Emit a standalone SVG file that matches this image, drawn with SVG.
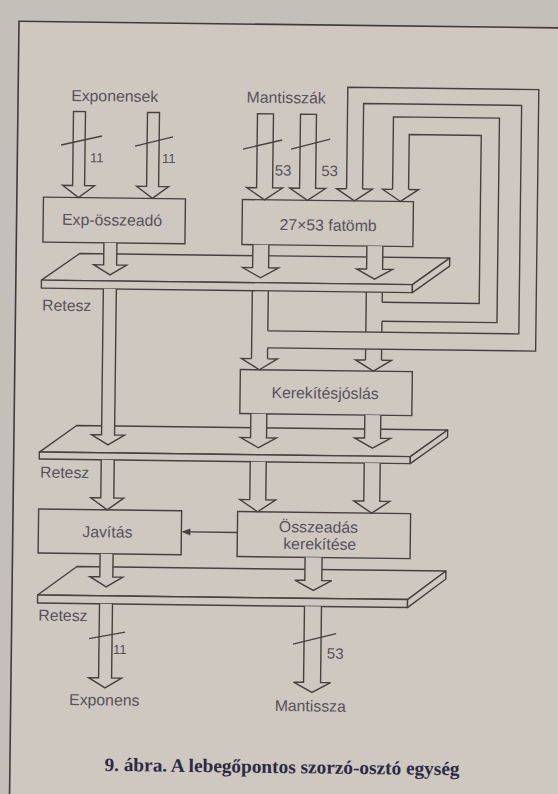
<svg xmlns="http://www.w3.org/2000/svg" width="558" height="794" viewBox="0 0 558 794">
<style>
.ln{fill:none;stroke:#46413f;stroke-width:1.4;stroke-linejoin:miter}
.ar{fill:#cec8c1;stroke:#46413f;stroke-width:1.4;stroke-linejoin:miter}
.hd{fill:#cec8c1;stroke:#46413f;stroke-width:1.4;stroke-linejoin:miter}
.bx{fill:#cec8c1;stroke:#46413f;stroke-width:1.4}
.pl{fill:#cec8c1;stroke:#46413f;stroke-width:1.4;stroke-linejoin:round}
.sl{fill:none;stroke:#46413f;stroke-width:1.3}
.t{font-family:"Liberation Sans",Arial,sans-serif;font-size:15.8px;fill:#57525b}
.m{text-anchor:middle}
.n1{font-family:"Liberation Sans",Arial,sans-serif;font-size:13px;fill:#57525b}
.n2{font-family:"Liberation Sans",Arial,sans-serif;font-size:15px;fill:#57525b}
.cap{font-family:"Liberation Serif","Times New Roman",serif;font-weight:bold;font-size:19px;fill:#2c2a44}
</style>
<rect width="558" height="794" fill="#c5bfba"/>
<g transform="rotate(0.7 280 400)">
<rect id="frame" x="14.4" y="24.5" width="570" height="800" fill="#cec8c1" stroke="#3f3a3c" stroke-width="1.6"/>

<g id="latch1">
<path class="pl" d="M78,256 H448 L411,283 H40 Z"/>
<path class="pl" d="M40,283 H411 V291 H40 Z"/>
<path class="pl" d="M448,256 V264 L411,291 V283 Z"/>
</g>
<g id="latch2">
<path class="pl" d="M77,428 H448 L411,455 H40 Z"/>
<path class="pl" d="M40,455 H411 V462 H40 Z"/>
<path class="pl" d="M448,428 V435 L411,462 V455 Z"/>
</g>
<g id="latch3">
<path class="pl" d="M79,569 H448 L410,598 H40 Z"/>
<path class="pl" d="M40,598 H410 V606 H40 Z"/>
<path class="pl" d="M448,569 V577 L410,606 V598 Z"/>
</g>

<g id="exp-adder"><rect class="bx" x="41" y="200" width="142" height="45"/><text class="t m" x="110" y="227.5">Exp-összeadó</text></g>
<g id="fatomb"><rect class="bx" x="240" y="200" width="171" height="45"/><text class="t m" x="326" y="230">27×53 fatömb</text></g>
<g id="kerekitesjoslas"><rect class="bx" x="240" y="370" width="172" height="44"/><text class="t m" x="325" y="398">Kerekítésjóslás</text></g>
<g id="javitas"><rect class="bx" x="40" y="512" width="143" height="44"/><text class="t m" x="109" y="539.5">Javítás</text></g>
<g id="osszeadas"><rect class="bx" x="239" y="512" width="173" height="45"/><text class="t m" x="320" y="532">Összeadás</text><text class="t m" x="321.5" y="549">kerekítése</text></g>

<g id="connectors">
<path class="ar" d="M70,114 V188 H60 L76,200 L92,188 H82 V114 Z"/>
<path class="ar" d="M144,114 V188 H134 L150,200 L166,188 H156 V114 Z"/>
<path class="ar" d="M254,114 V188 H244 L262,200 L280,188 H270 V114 Z"/>
<path class="ar" d="M297,114 V188 H287 L305,200 L323,188 H313 V114 Z"/>
<path class="ln" d="M344,188 V86.5 H535 V348 H267"/>
<path class="ln" d="M360,188 V102.5 H518 V331 H267"/>
<path class="ln" d="M390,188 V115.5 H496 V320 H381"/>
<path class="ln" d="M406,188 V133 H478 V301 H381"/>
<path class="hd" d="M344,188 H334 L352,200 L370,188 H360"/>
<path class="hd" d="M390,188 H380 L398,200 L416,188 H406"/>
<path class="ar" d="M102,245 V267 H92 L108.5,277 L125,267 H115 V245"/>
<path class="ar" d="M251,245 V268 H241 L259,278 L277,268 H267 V245"/>
<path class="ar" d="M365,245 V268 H355 L373,278 L391,268 H381 V245"/>
<path class="ar" d="M102,291 V437 H92 L108.5,447 L125,437 H115 V291"/>
<path class="ln" d="M251,291 V359 M267,291 V331 M267,348 V359 M365,291 V331 M365,348 V359 M381,291 V301 M381,320 V331 M381,348 V359"/>
<path class="hd" d="M251,359 H241 L259,370 L277,359 H267"/>
<path class="hd" d="M365,359 H355 L373,370 L391,359 H381"/>
<path class="ar" d="M251,414 V438 H241 L259,448 L277,438 H267 V414"/>
<path class="ar" d="M365,414 V437 H355 L373,447 L391,437 H381 V414"/>
<path class="ar" d="M102,462 V500 H92 L108.5,512 L125,500 H115 V462"/>
<path class="ar" d="M251,462 V500 H241 L259,512 L277,500 H267 V462"/>
<path class="ar" d="M365,462 V500 H355 L373,512 L391,500 H381 V462"/>
<path class="ar" d="M102,556 V579 H92 L108.5,589 L125,579 H115 V556"/>
<path class="ar" d="M307,557 V580 H297 L315.5,590 L334,580 H324 V557"/>
<path class="ar" d="M102,606 V680 H92 L108.5,690 L125,680 H115 V606"/>
<path class="ar" d="M307,606 V682 H297 L315.5,692 L334,682 H324 V606"/>
<path class="ln" d="M239,533 H191"/>
<path d="M183,533 L192,529.5 L192,536.5 Z" fill="#46413f"/>
<path class="sl" d="M58,147.7 L98.8,138.2 M132,147.8 L169.8,138.3 M240,149.5 L279,140 M288,149 L327,138.5 M92,641 L128,634 M296,644 L339,633"/>
</g>

<g id="labels">
<text class="t m" x="111" y="103.5">Exponensek</text>
<text class="t m" x="282.5" y="103">Mantisszák</text>
<text class="n1" x="87" y="164.5">11</text>
<text class="n1" x="159" y="164.5">11</text>
<text class="n2" x="272" y="175.5">53</text>
<text class="n2" x="318.5" y="175.5">53</text>
<text class="t" x="41" y="313.5">Retesz</text>
<text class="t" x="41" y="480.5">Retesz</text>
<text class="t" x="41" y="623.5">Retesz</text>
<text class="n1" x="116" y="656">11</text>
<text class="n2" x="330" y="658">53</text>
<text class="t m" x="108" y="707.5">Exponens</text>
<text class="t m" x="314" y="711">Mantissza</text>
<text class="cap m" x="286.5" y="773" textLength="355" lengthAdjust="spacingAndGlyphs">9. ábra. A lebegőpontos szorzó-osztó egység</text>
</g>
</g>
</svg>
